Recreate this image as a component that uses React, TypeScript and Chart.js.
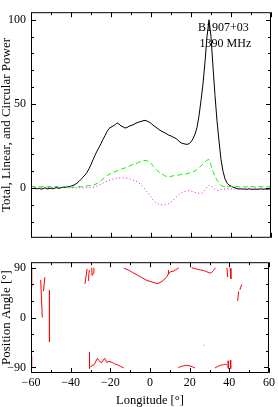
import React, { useEffect, useRef } from "react";
import { Chart, registerables } from "chart.js";

Chart.register(...registerables);

// ---------------- data ----------------
const lonStart = -60;
const lonEnd = 60;
const longitudes: number[] = [];
for (let l = lonStart; l <= lonEnd; l++) longitudes.push(l);

// total intensity (I), -60 .. 60 deg, 1 deg step
const totalI = [
  -0.4, -0.2, 0.1, -0.5, -0.1, -0.6, -0.3, 0.2, -0.5, -0.2,
  0.0, -0.4, 0.1, 0.3, -0.2, 0.3, 0.5, 0.4, 0.7, 0.9,
  1.2, 1.6, 2.2, 3.0, 4.0, 5.2, 6.5, 7.8, 9.4, 11.5,
  14.0, 16.8, 19.5, 22.0, 24.2, 26.5, 29.0, 31.2, 33.6, 35.4,
  36.2, 36.9, 37.6, 38.8, 38.0, 37.0, 36.4, 35.7, 36.0, 36.8,
  37.2, 37.6, 38.3, 38.8, 39.3, 39.6, 40.0, 40.3, 39.8, 39.3,
  38.5, 37.4, 36.6, 35.7, 34.8, 34.0, 33.4, 32.8, 32.1, 31.4,
  31.0, 30.3, 29.8, 29.0, 27.9, 26.9, 26.5, 26.2, 26.0, 26.3,
  27.5, 29.3, 32.0, 36.0, 43.0, 52.0, 62.0, 75.0, 90.0, 100.0,
  90.0, 72.0, 55.0, 40.0, 28.0, 17.0, 10.0, 5.5, 3.0, 1.8,
  1.2, 0.6, 0.2, -0.3, -0.5, -0.4, -0.6, -0.5, -0.7, -0.4,
  -0.6, -0.8, -0.5, -0.7, -0.6, -0.4, -0.7, -0.5, -0.6, -0.5,
  -0.6,
];

// linear polarization (L)
const linearL = [
  0.8, 1.0, 0.6, 1.2, 0.9, 0.7, 1.1, 0.8, 0.6, 1.0,
  0.9, 0.7, 0.8, 1.0, 0.6, 0.8, 0.7, 0.9, 0.6, 0.8,
  0.7, 0.6, 0.8, 0.7, 0.9,
  0.8, 1.0, 1.2, 1.3, 1.5, 1.6, 1.8, 2.2, 2.8, 3.6,
  4.5, 5.5, 6.5, 7.4, 8.2, 8.8, 9.4, 9.8, 10.3, 10.7,
  11.2, 11.6, 12.0, 12.4, 13.0, 13.6, 14.1, 14.5, 14.8, 15.4,
  16.0, 16.3, 16.5, 16.2, 15.8,
  14.8, 13.2, 11.8, 10.6, 9.6, 8.8, 8.0, 7.2, 6.8, 6.8,
  7.0, 7.3, 7.5, 7.6, 7.8, 8.0, 8.2, 8.4, 8.6, 9.0,
  9.4, 9.8, 10.2, 11.0, 12.0, 13.2, 14.2, 15.5, 16.6, 17.0,
  13.5, 10.0, 7.0, 4.8, 3.0, 1.6, 1.1, 0.9, 0.7, 0.8,
  1.0, 0.6, 0.9, 1.1, 0.7, 0.8, 1.0, 0.6, 0.9, 0.7,
  1.0, 0.8, 0.6, 0.9, 1.1, 0.7, 0.8, 1.0, 0.6, 0.9,
  0.8,
];

// circular polarization (V)
const circularV = [
  0.3, 0.1, 0.4, 0.2, 0.0, 0.3, 0.5, 0.2, 0.1, 0.4,
  0.2, 0.3, 0.0, 0.2, 0.4, 0.1, 0.3, 0.2, 0.4, 0.1,
  0.3, 0.2, 0.0, 0.3, 0.2, 0.4, 0.1, 0.3, 0.2, 0.3,
  0.4, 0.5, 0.8, 1.2, 1.7, 2.3, 3.0, 3.6, 4.1, 4.6,
  5.0, 5.4, 5.7, 5.9, 6.0, 6.1, 6.1, 6.0, 5.9, 5.6,
  5.2, 4.8, 4.4, 3.9,
  3.0, 2.0, 0.8, -0.6, -2.2, -3.8, -5.4, -7.0, -8.2, -9.0,
  -9.6, -9.9, -10.0, -9.9, -9.6, -9.1, -8.3, -7.2, -6.0, -4.8,
  -3.8, -3.0, -2.4, -1.9, -1.6, -1.5, -1.7, -2.1, -2.5, -2.8,
  -3.0, -3.2,
  -2.5, -1.0, 0.5, 1.8, 1.5, 0.3, -0.8, -1.3, -1.1, -0.8,
  -0.6, -0.5, -0.4, -0.6, -0.5, -0.3, -0.5, -0.6, -0.4, -0.5,
  -0.3, -0.5, -0.6, -0.4, -0.5, -0.6, -0.4, -0.5, -0.3, -0.5,
  -0.6, -0.4, -0.5, -0.4, -0.5,
];

// position angle traces (null = break)
const paLon = [
  -59.7, -59.7, null,
  -59.7, -59.7, null,
  -55.1, -54.3, null,
  -53.0, -53.7, null,
  -50.7, -50.7, null,
  -32.8, -31.7, null,
  -31.1, -30.6, null,
  -29.4, -29.2, -28.6, -28.3, null,
  -30.5, -30.5, null,
  -30.3, -29.8, -28.2, -26.5, -25.7, -24.5, -23.5, -22.8, -21.8, -20.7, -19.0, -17.8, -16.5, -14.8, -13.2, null,
  -13.2, -11.0, -9.0, -6.5, -4.0, -1.5, 0.5, 2.5, 4.0, 5.5, 7.0, 8.5, 9.5, 10.5, 12.0, 13.0, 14.5, null,
  9.3, 9.3, null,
  21.0, 22.5, 24.0, 25.5, 27.0, 28.5, 30.0, 31.0, 32.0, 33.0, null,
  38.8, 39.2, null,
  40.4, 40.8, null,
  46.3, 45.3, null,
  44.7, 44.2, null,
  14.3, 15.5, 17.0, 18.5, 20.0, 21.5, 22.7, null,
  32.7, 34.0, 35.5, 37.0, 38.0, 39.0, null,
  39.4, 39.5, null,
  40.5, 40.7, null,
  27.0, 27.3,
];
const paDeg = [
  91, 55, null,
  -70, -92, null,
  68, 0, null,
  73, 48, null,
  49, -44, null,
  61, 88, null,
  66, 86, null,
  90, 76, 80, 90, null,
  -62, -92, null,
  -90, -88, -85, -73.5, -77.6, -82, -76.4, -73.5, -81, -79, -81, -83.5, -85, -88, -91, null,
  89.5, 86, 82, 77, 72, 67, 65, 62.5, 61.5, 64, 68, 74, 80, 83, 84, 86.5, 89.5, null,
  78, 86, null,
  90, 88.5, 87, 86, 85, 83, 80.5, 81, 85, 90, null,
  90, 73, null,
  89, 70, null,
  60, 50, null,
  47, 30, null,
  -90, -88.5, -87, -86, -87, -89, -91, null,
  -91, -88.5, -86, -85, -84, -86, null,
  -78, -92, null,
  -77, -92, null,
  -50, -50,
];

const powerTickLabels = [0, 50, 100];
const paTickLabels = [-90, 0, 90];
const lonTickLabels = [-60, -40, -20, 0, 20, 40, 60];
const pulsarName = "B1907+03";
const frequencyLabel = "1390 MHz";

// ---------------- styling helpers ----------------
const FONT = "'Liberation Serif', 'Times New Roman', serif";
const minus = (v: number | string) => String(v).replace("-", "\u2212");

const framePlugin = {
  id: "frameTicks",
  afterDraw(chart: any, _args: any, opts: any) {
    const { ctx, chartArea } = chart;
    const { left, right, top, bottom } = chartArea;
    const xs = chart.scales.x;
    const ys = chart.scales.y;
    ctx.save();
    ctx.strokeStyle = "#000";
    ctx.lineWidth = 1;
    ctx.beginPath();
    ctx.rect(left + 0.5, top + 0.5, right - left - 1, bottom - top - 1);
    ctx.stroke();
    ctx.beginPath();
    const eps = 1e-6;
    for (let v = Math.ceil(xs.min / opts.xMinor) * opts.xMinor; v <= xs.max + eps; v += opts.xMinor) {
      const px = Math.round(xs.getPixelForValue(v)) + 0.5;
      const major = Math.abs(v / opts.xMajor - Math.round(v / opts.xMajor)) < eps;
      const len = major ? opts.majorLen : opts.minorLen;
      ctx.moveTo(px, bottom);
      ctx.lineTo(px, bottom - len);
      ctx.moveTo(px, top);
      ctx.lineTo(px, top + len);
    }
    for (let v = Math.ceil(ys.min / opts.yMinor) * opts.yMinor; v <= ys.max + eps; v += opts.yMinor) {
      const py = Math.round(ys.getPixelForValue(v)) + 0.5;
      const major = Math.abs(v / opts.yMajor - Math.round(v / opts.yMajor)) < eps;
      const len = major ? opts.majorLen : opts.minorLen;
      ctx.moveTo(left, py);
      ctx.lineTo(left + len, py);
      ctx.moveTo(right, py);
      ctx.lineTo(right - len, py);
    }
    ctx.stroke();
    if (opts.labels) {
      ctx.fillStyle = "#000";
      ctx.font = `12px ${FONT}`;
      ctx.textAlign = "left";
      ctx.textBaseline = "middle";
      for (const lab of opts.labels) {
        ctx.fillText(lab.text, xs.getPixelForValue(lab.x), ys.getPixelForValue(lab.y));
      }
    }
    ctx.restore();
  },
};

export default function App() {
  const topRef = useRef<HTMLCanvasElement | null>(null);
  const botRef = useRef<HTMLCanvasElement | null>(null);

  useEffect(() => {
    const pts = (ys: number[]) => longitudes.map((x, i) => ({ x, y: ys[i] }));
    const paPts = paLon.map((x, i) => ({ x, y: paDeg[i] }));

    const top = new Chart(topRef.current as HTMLCanvasElement, {
      type: "line",
      data: {
        datasets: [
          { data: pts(circularV), borderColor: "#ff00ff", borderWidth: 1, borderDash: [1, 2.5], pointRadius: 0, tension: 0 },
          { data: pts(linearL), borderColor: "#00ff00", borderWidth: 1, borderDash: [5, 3], pointRadius: 0, tension: 0 },
          { data: pts(totalI), borderColor: "#000000", borderWidth: 1, pointRadius: 0, tension: 0 },
        ],
      },
      options: {
        animation: false,
        responsive: false,
        devicePixelRatio: 1,
        layout: { padding: { top: 2, bottom: 2, left: 0, right: 7 } },
        plugins: {
          legend: { display: false },
          tooltip: { enabled: false },
          frameTicks: {
            xMinor: 10, xMajor: 20, yMinor: 10, yMajor: 50, majorLen: 5, minorLen: 3,
            labels: [
              { text: pulsarName, x: 23.5, y: 95 },
              { text: frequencyLabel, x: 24.3, y: 85.5 },
            ],
          },
        } as any,
        scales: {
          x: { type: "linear", min: lonStart, max: lonEnd, display: false },
          y: {
            type: "linear",
            min: -29.5,
            max: 104.5,
            grid: { display: false, drawTicks: false },
            border: { display: false },
            afterBuildTicks: (s: any) => { s.ticks = powerTickLabels.map((value) => ({ value })); },
            afterFit: (s: any) => { s.width = 31; },
            ticks: { padding: 5, color: "#000", font: { family: FONT, size: 12 }, callback: (v: any) => minus(v) },
            title: {
              display: true,
              text: "Total, Linear, and Circular Power",
              color: "#000",
              font: { family: FONT, size: 13, lineHeight: 1 },
              padding: 0,
            },
          },
        },
      },
      plugins: [framePlugin],
    } as any);

    const bot = new Chart(botRef.current as HTMLCanvasElement, {
      type: "line",
      data: {
        datasets: [
          { data: paPts, borderColor: "#ff0000", borderWidth: 1, pointRadius: 0, tension: 0, spanGaps: false },
        ],
      },
      options: {
        animation: false,
        responsive: false,
        devicePixelRatio: 1,
        layout: { padding: { top: 8, bottom: 0, left: 0, right: 7 } },
        plugins: {
          legend: { display: false },
          tooltip: { enabled: false },
          frameTicks: { xMinor: 10, xMajor: 20, yMinor: 30, yMajor: 90, majorLen: 5, minorLen: 3 },
        } as any,
        scales: {
          x: {
            type: "linear",
            min: lonStart,
            max: lonEnd,
            grid: { display: false, drawTicks: false },
            border: { display: false },
            afterBuildTicks: (s: any) => { s.ticks = lonTickLabels.map((value) => ({ value })); },
            afterFit: (s: any) => { s.height = 34; },
            ticks: { padding: 3, color: "#000", font: { family: FONT, size: 12 }, maxRotation: 0, autoSkip: false, callback: (v: any) => minus(v) },
            title: {
              display: true,
              text: "Longitude [°]",
              color: "#000",
              font: { family: FONT, size: 12.5, lineHeight: 1 },
              padding: 0,
            },
          },
          y: {
            type: "linear",
            min: -100,
            max: 100,
            grid: { display: false, drawTicks: false },
            border: { display: false },
            afterBuildTicks: (s: any) => { s.ticks = paTickLabels.map((value) => ({ value })); },
            afterFit: (s: any) => { s.width = 31; },
            ticks: { padding: 5, color: "#000", font: { family: FONT, size: 12 }, callback: (v: any) => minus(v) },
            title: {
              display: true,
              text: "Position Angle [°]",
              color: "#000",
              font: { family: FONT, size: 13, lineHeight: 1 },
              padding: 0,
            },
          },
        },
      },
      plugins: [framePlugin],
    } as any);

    return () => {
      top.destroy();
      bot.destroy();
    };
  }, []);

  return (
    <div style={{ position: "absolute", left: 0, top: 0, width: 278, height: 407, background: "#fff" }}>
      <canvas ref={topRef} width={278} height={250} style={{ display: "block", width: 278, height: 250 }} />
      <canvas ref={botRef} width={278} height={157} style={{ display: "block", width: 278, height: 157 }} />
    </div>
  );
}
